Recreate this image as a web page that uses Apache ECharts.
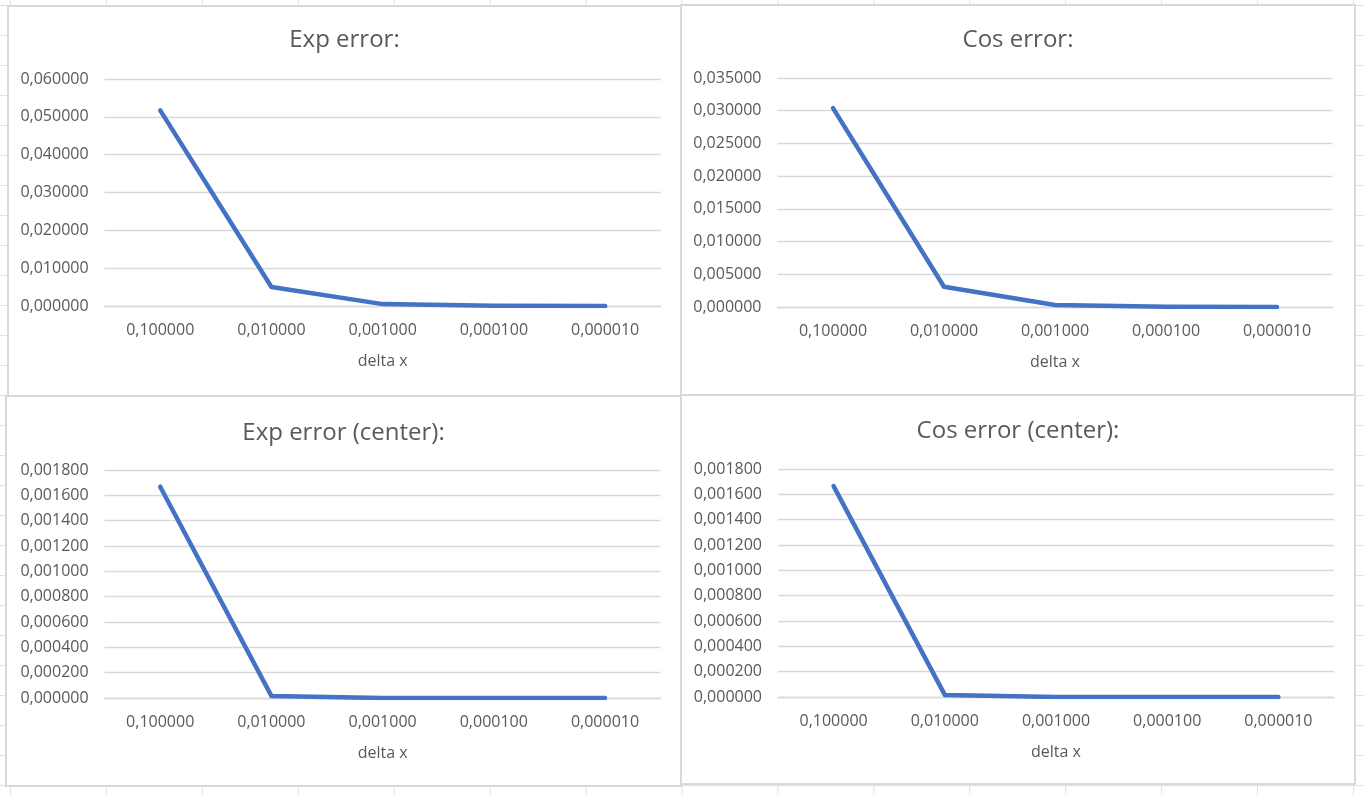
<!DOCTYPE html>
<html>
<head>
<meta charset="utf-8">
<script src="https://cdn.jsdelivr.net/npm/echarts@6/dist/echarts.min.js"></script>
<style>
html, body { margin: 0; padding: 0; width: 1364px; height: 795px; overflow: hidden; }
body {
    position: relative;
    background-color: #ffffff;
    background-image: linear-gradient(to right, #e1e1e1 1px, transparent 1px),
                      linear-gradient(to bottom, #e1e1e1 1px, transparent 1px);
    background-size: 95.93px 30px;
    background-position: 10px 5px;
}
.chart { position: absolute; background: #ffffff; }
.frame { position: absolute; box-sizing: border-box; border: 2px solid #d9d9d9; pointer-events: none; }
</style>
</head>
<body>
<div class="chart" id="c1" style="left:8px;top:6px;width:673px;height:390px"></div>
<div class="chart" id="c2" style="left:681px;top:5px;width:674px;height:390px"></div>
<div class="chart" id="c3" style="left:6px;top:396px;width:675px;height:390px"></div>
<div class="chart" id="c4" style="left:681px;top:395px;width:674px;height:389px"></div>
<div class="frame" style="left:7px;top:5px;width:675px;height:392px"></div>
<div class="frame" style="left:680px;top:4px;width:676px;height:392px"></div>
<div class="frame" style="left:5px;top:395px;width:677px;height:392px"></div>
<div class="frame" style="left:680px;top:394px;width:676px;height:391px"></div>
<script>
// x categories (delta x)
var categories = ['0,100000', '0,010000', '0,001000', '0,000100', '0,000010'];

// errors
var expError = [0.0517, 0.00502, 0.0005, 0.00005, 0.000005];
var cosError = [0.0304, 0.0031, 0.00031, 0.000031, 0.0000031];
var expErrorCenter = [0.001668, 0.0000167, 0.00000017, 0.0000000017, 0.00000000002];
var cosErrorCenter = [0.001665, 0.0000167, 0.00000017, 0.0000000017, 0.00000000002];

var titles = ['Exp error:', 'Cos error:', 'Exp error (center):', 'Cos error (center):'];
var yMax = [0.06, 0.035, 0.0018, 0.0018];
var yStep = [0.01, 0.005, 0.0002, 0.0002];
var axisName = 'delta x';

var textColor = '#595959';
var lineColor = '#d9d9d9';
var fontFamily = '"Open Sans", "Noto Sans", sans-serif';

function makeOption(i, values, grid, titleTop) {
    return {
        animation: false,
        title: {
            text: titles[i],
            left: 'center',
            top: titleTop,
            textStyle: {
                color: textColor,
                fontFamily: fontFamily,
                fontSize: 24,
                fontWeight: 'normal',
                lineHeight: 30
            }
        },
        grid: grid,
        xAxis: {
            type: 'category',
            boundaryGap: true,
            data: categories,
            name: axisName,
            nameLocation: 'middle',
            nameGap: 47,
            nameTextStyle: {
                color: textColor,
                fontFamily: fontFamily,
                fontSize: 16
            },
            axisLine: { lineStyle: { color: lineColor, width: 1.3 } },
            axisTick: { show: false },
            axisLabel: {
                color: textColor,
                fontFamily: fontFamily,
                fontSize: 16,
                margin: 16,
                interval: 0
            }
        },
        yAxis: {
            type: 'value',
            min: 0,
            max: yMax[i],
            interval: yStep[i],
            axisLine: { show: false },
            axisTick: { show: false },
            splitLine: { lineStyle: { color: lineColor, width: 1.3 } },
            axisLabel: {
                color: textColor,
                fontFamily: fontFamily,
                fontSize: 16,
                margin: 16,
                formatter: function (v) {
                    return v.toFixed(6).replace('.', ',');
                }
            }
        },
        series: [
            {
                type: 'line',
                data: values,
                showSymbol: false,
                symbol: 'none',
                lineStyle: {
                    color: '#4472c4',
                    width: 4.5,
                    cap: 'round',
                    join: 'round'
                }
            }
        ]
    };
}

var chart1 = echarts.init(document.getElementById('c1'));
chart1.setOption(makeOption(0, expError, { left: 96.6, top: 73, width: 556.2, height: 227 }, 14));

var chart2 = echarts.init(document.getElementById('c2'));
chart2.setOption(makeOption(1, cosError, { left: 96.5, top: 73, width: 555, height: 229 }, 15));

var chart3 = echarts.init(document.getElementById('c3'));
chart3.setOption(makeOption(2, expErrorCenter, { left: 98.6, top: 74, width: 556, height: 228 }, 17));

var chart4 = echarts.init(document.getElementById('c4'));
chart4.setOption(makeOption(3, cosErrorCenter, { left: 97, top: 74, width: 556, height: 228 }, 16));
</script>
</body>
</html>
